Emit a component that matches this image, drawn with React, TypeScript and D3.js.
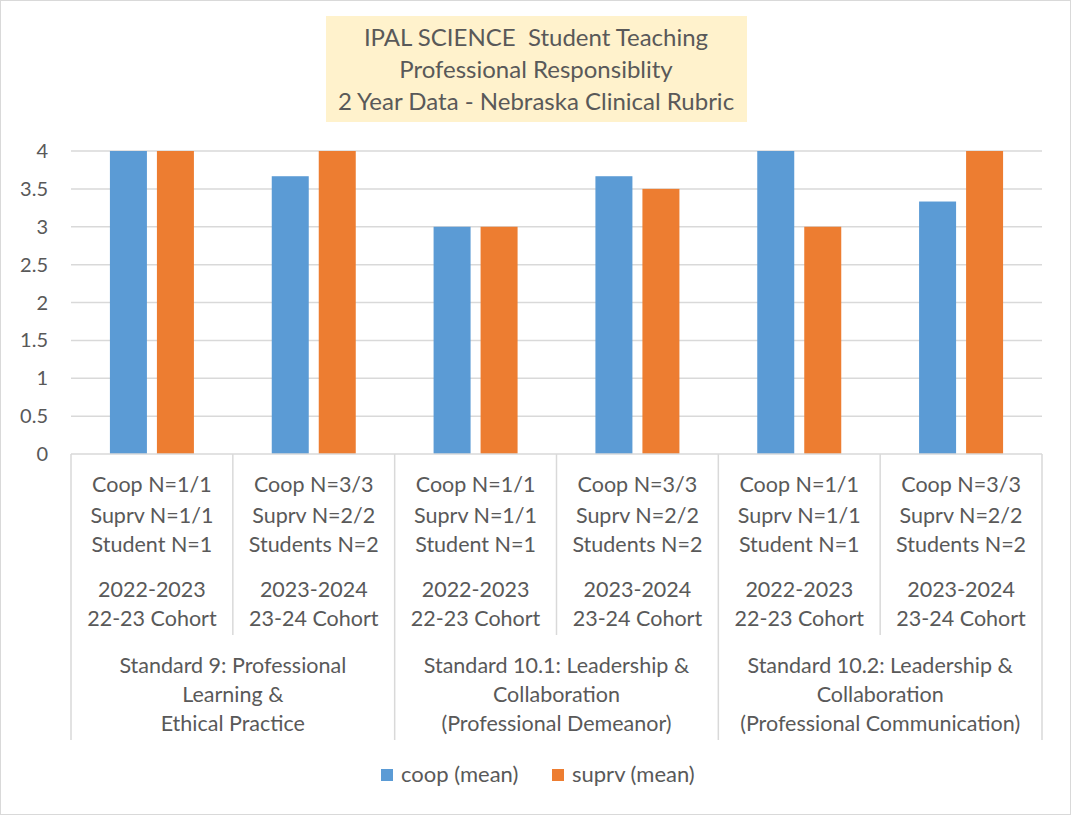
import React from "react";
import * as d3 from "d3";

const categories = ["c1", "c2", "c3", "c4", "c5", "c6"];
const catLines = [
  ["Coop N=1/1", "Suprv N=1/1", "Student N=1", "2022-2023", "22-23 Cohort"],
  ["Coop N=3/3", "Suprv N=2/2", "Students N=2", "2023-2024", "23-24 Cohort"],
  ["Coop N=1/1", "Suprv N=1/1", "Student N=1", "2022-2023", "22-23 Cohort"],
  ["Coop N=3/3", "Suprv N=2/2", "Students N=2", "2023-2024", "23-24 Cohort"],
  ["Coop N=1/1", "Suprv N=1/1", "Student N=1", "2022-2023", "22-23 Cohort"],
  ["Coop N=3/3", "Suprv N=2/2", "Students N=2", "2023-2024", "23-24 Cohort"],
];
const groupLines = [
  ["Standard 9: Professional", "Learning &", "Ethical Practice"],
  ["Standard 10.1: Leadership &", "Collaboration", "(Professional Demeanor)"],
  ["Standard 10.2: Leadership &", "Collaboration", "(Professional Communication)"],
];
const coopMean = [4, 3.667, 3, 3.667, 4, 3.333];
const suprvMean = [4, 4, 3, 3.5, 3, 4];
const seriesNames = ["coop (mean)", "suprv (mean)"];
const yTicks = [0, 0.5, 1, 1.5, 2, 2.5, 3, 3.5, 4];
const titleLines = [
  "IPAL SCIENCE  Student Teaching",
  "Professional Responsiblity",
  "2 Year Data - Nebraska Clinical Rubric",
];

const W = 1071;
const H = 815;
const left = 71;
const right = 1042;
const top = 151;
const bottom = 454;
const colors = ["#5B9BD5", "#ED7D31"];
const textColor = "#595959";
const font = "Lato, 'Open Sans', sans-serif";
const catLineY = [492, 523, 552, 597, 626];

export default function App() {
  const x = d3.scaleBand<string>().domain(categories).range([left, right]).padding(0);
  const y = d3.scaleLinear().domain([0, 4]).range([bottom, top]);
  const bw = x.bandwidth();
  const barW = 37;
  const gap = 10;
  const series = [coopMean, suprvMean];

  return (
    <svg
      width={W}
      height={H}
      style={{ position: "absolute", left: 0, top: 0, display: "block", background: "#fff" }}
      fontFamily={font}
    >
      <rect x={0.5} y={0.5} width={W - 1} height={H - 1} fill="#fff" stroke="#d9d9d9" />
      {/* title */}
      <rect x={326} y={16} width={421} height={106} fill="#FFF2CC" />
      {titleLines.map((t, i) => (
        <text
          key={i}
          x={536}
          y={46 + i * 32}
          textAnchor="middle"
          fontSize={24}
          fill={textColor}
          style={{ whiteSpace: "pre" }}
        >
          {t}
        </text>
      ))}
      {/* gridlines */}
      {yTicks.map((t) => (
        <g key={t}>
          {t > 0 && (
            <line x1={left} x2={right} y1={y(t)} y2={y(t)} stroke="#d9d9d9" strokeWidth={1.5} />
          )}
          <text x={48} y={y(t) + 7} textAnchor="end" fontSize={20} fill={textColor}>
            {t}
          </text>
        </g>
      ))}
      {/* bars */}
      {series.map((s, si) =>
        s.map((v, i) => {
          const cx = (x(categories[i]) as number) + bw / 2;
          const bx = si === 0 ? cx - gap / 2 - barW : cx + gap / 2;
          return (
            <rect
              key={si + "-" + i}
              x={bx}
              y={y(v)}
              width={barW}
              height={y(0) - y(v)}
              fill={colors[si]}
            />
          );
        })
      )}
      {/* axis */}
      <line x1={left} x2={right} y1={bottom} y2={bottom} stroke="#d9d9d9" strokeWidth={1.5} />
      {categories.map((c, i) => {
        const x0 = x(c) as number;
        return (
          <line
            key={"v" + i}
            x1={x0}
            x2={x0}
            y1={bottom}
            y2={i % 2 === 0 ? 740 : 635}
            stroke="#d9d9d9"
            strokeWidth={1.5}
          />
        );
      })}
      <line x1={right} x2={right} y1={bottom} y2={740} stroke="#d9d9d9" strokeWidth={1.5} />
      {catLines.map((lines, i) => {
        const cx = (x(categories[i]) as number) + bw / 2;
        return lines.map((l, j) => (
          <text key={i + "-" + j} x={cx} y={catLineY[j]} textAnchor="middle" fontSize={21.5} fill={textColor}>
            {l}
          </text>
        ));
      })}
      {groupLines.map((lines, g) => {
        const cx = (x(categories[g * 2]) as number) + bw;
        return lines.map((l, j) => (
          <text key={g + "-" + j} x={cx} y={673 + j * 29} textAnchor="middle" fontSize={21.5} fill={textColor}>
            {l}
          </text>
        ));
      })}
      {/* legend */}
      {seriesNames.map((n, i) => {
        const lx = i === 0 ? 381 : 552;
        return (
          <g key={n}>
            <rect x={lx} y={769} width={12} height={12} fill={colors[i]} />
            <text x={lx + 20} y={782} fontSize={22} fill={textColor}>
              {n}
            </text>
          </g>
        );
      })}
    </svg>
  );
}
